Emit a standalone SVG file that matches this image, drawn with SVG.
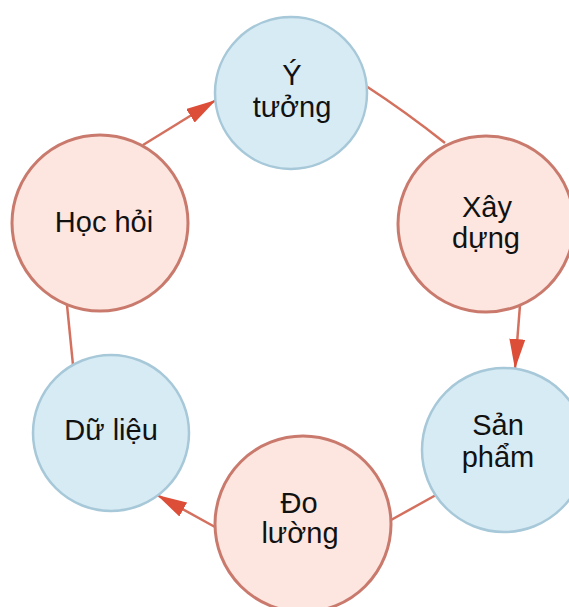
<svg xmlns="http://www.w3.org/2000/svg" width="569" height="607" viewBox="0 0 569 607">
<style>
.blue{fill:#d7ebf4;stroke:#a6c8d8;stroke-width:2.5}
.red{fill:#fce6df;stroke:#c97a6d;stroke-width:3}
.lbl{font-family:"Liberation Sans",Arial,sans-serif;font-size:29px;fill:#111;text-anchor:middle}
.conn{fill:none;stroke:#d4705e;stroke-width:2.5}
</style>
<defs>
<marker id="arr" viewBox="0 0 30 16" refX="30" refY="8" markerWidth="30" markerHeight="16" markerUnits="userSpaceOnUse" orient="auto">
<path d="M0,0 L30,8 L0,16 z" fill="#dc4e38"/>
</marker>
</defs>
<g id="connectors">
<path class="conn" d="M143,145 L216,100" marker-end="url(#arr)"/>
<path class="conn" d="M366,86 Q406,112 445,143"/>
<path class="conn" d="M520,305 L515,369" marker-end="url(#arr)"/>
<path class="conn" d="M391,520 L436,495"/>
<path class="conn" d="M215,527 L157,495" marker-end="url(#arr)"/>
<path class="conn" d="M67,305 L73,365"/>
</g>
<g id="y-tuong">
<circle class="blue" cx="291" cy="93" r="76"/>
<text class="lbl" x="292" y="85">Ý</text>
<text class="lbl" x="292" y="117">tưởng</text>
</g>
<g id="xay-dung">
<circle class="red" cx="486" cy="224" r="88"/>
<text class="lbl" x="487" y="217">Xây</text>
<text class="lbl" x="486" y="248">dựng</text>
</g>
<g id="san-pham">
<circle class="blue" cx="504" cy="450" r="82"/>
<text class="lbl" x="498" y="435">Sản</text>
<text class="lbl" x="498" y="467">phẩm</text>
</g>
<g id="do-luong">
<circle class="red" cx="303" cy="524" r="88"/>
<text class="lbl" x="299" y="513">Đo</text>
<text class="lbl" x="300" y="543">lường</text>
</g>
<g id="du-lieu">
<circle class="blue" cx="111" cy="433" r="78"/>
<text class="lbl" x="111" y="440">Dữ liệu</text>
</g>
<g id="hoc-hoi">
<circle class="red" cx="100" cy="223" r="88"/>
<text class="lbl" x="104" y="232">Học hỏi</text>
</g>
</svg>
